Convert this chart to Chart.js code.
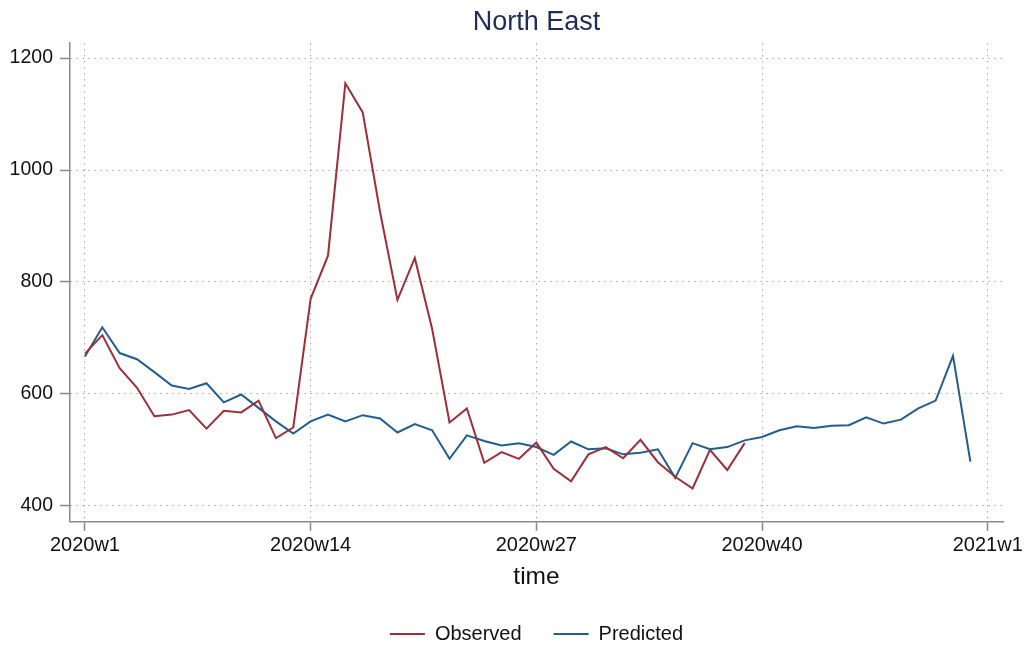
<!DOCTYPE html>
<html>
<head>
<meta charset="utf-8">
<script src="https://cdn.jsdelivr.net/npm/chart.js@4"></script>
<style>
  html, body { margin: 0; padding: 0; background: #fff; }
  #wrap { width: 1030px; height: 646px; }
</style>
</head>
<body>
<div id="wrap"><canvas id="chart" width="1030" height="646"></canvas></div>
<script>
// week index 0 = 2020w1
const observed = [672, 705, 646, 611, 560, 563, 571, 538, 570, 567, 588, 521, 540,
    770, 847, 1155, 1103, 925, 768, 843, 716, 549, 574, 477, 496, 484, 513, 466,
    444, 492, 505, 485, 518, 478, 452, 431, 500, 464, 512];
const predicted = [667, 719, 673, 662, 639, 615, 609, 619, 585, 599, 575, 551, 529,
    551, 563, 551, 562, 556, 531, 546, 535, 484, 526, 516, 508, 512, 505, 491,
    515, 501, 503, 492, 495, 501, 450, 512, 501, 505, 517, 523, 535, 542, 539,
    543, 544, 558, 547, 554, 574, 588, 668, 479];
const tickWeeks = [0, 13, 26, 39, 52];
const tickLabels = ['2020w1', '2020w14', '2020w27', '2020w40', '2021w1'];
const yTicks = [400, 600, 800, 1000, 1200];

const red = '#9b2f3a';
const blue = '#235d8e';
const axisGray = '#8a8a8a';
const gridGray = '#a8a8a8';
const font = "'Liberation Sans', Arial, Helvetica, sans-serif";

document.addEventListener('DOMContentLoaded', function () {
    const ctx = document.getElementById('chart').getContext('2d');
    new Chart(ctx, {
        type: 'line',
        data: {
            datasets: [{
                label: 'Observed',
                data: observed.map((v, i) => ({ x: i, y: v })),
                borderColor: red,
                backgroundColor: red,
                borderWidth: 2,
                pointRadius: 0,
                tension: 0
            }, {
                label: 'Predicted',
                data: predicted.map((v, i) => ({ x: i, y: v })),
                borderColor: blue,
                backgroundColor: blue,
                borderWidth: 2,
                pointRadius: 0,
                tension: 0
            }]
        },
        options: {
            responsive: false,
            animation: false,
            layout: { padding: { left: 0, right: 27, top: 0, bottom: -8 } },
            plugins: {
                title: {
                    display: true,
                    fullSize: false,
                    text: 'North East',
                    color: '#1e2d58',
                    font: { family: font, size: 27, weight: 'normal' },
                    padding: { top: 6, bottom: 4.6 }
                },
                legend: {
                    position: 'bottom',
                    fullSize: false,
                    labels: {
                        color: '#111',
                        font: { family: font, size: 20 },
                        boxWidth: 35,
                        boxHeight: 2,
                        padding: 32,
                        generateLabels: function (chart) {
                            return chart.data.datasets.map((ds, i) => ({
                                text: ds.label,
                                fillStyle: ds.borderColor,
                                strokeStyle: ds.borderColor,
                                lineWidth: 0,
                                fontColor: '#111',
                                datasetIndex: i
                            }));
                        }
                    }
                },
                tooltip: { enabled: false }
            },
            scales: {
                x: {
                    type: 'linear',
                    min: -0.86,
                    max: 52.88,
                    afterBuildTicks: function (scale) {
                        scale.ticks = tickWeeks.map(v => ({ value: v }));
                    },
                    ticks: {
                        autoSkip: false,
                        maxRotation: 0,
                        padding: 3,
                        color: '#111',
                        font: { family: font, size: 20 },
                        callback: function (value) {
                            return tickLabels[tickWeeks.indexOf(value)];
                        }
                    },
                    grid: {
                        color: gridGray,
                        tickColor: axisGray,
                        tickBorderDash: [],
                        tickWidth: 1.5,
                        tickLength: 9
                    },
                    border: { display: true, color: axisGray, width: 1.5, dash: [1.5, 4.5] },
                    title: {
                        display: true,
                        text: 'time',
                        color: '#111',
                        font: { family: font, size: 24.5 },
                        padding: { top: 1.7, bottom: 0 }
                    }
                },
                y: {
                    min: 371.3,
                    max: 1227,
                    afterBuildTicks: function (scale) {
                        scale.ticks = yTicks.map(v => ({ value: v }));
                    },
                    afterFit: function (scale) {
                        scale.width = 70;
                    },
                    ticks: {
                        padding: 7,
                        color: '#111',
                        font: { family: font, size: 19.5 },
                        callback: function (value) {
                            return String(value);
                        }
                    },
                    grid: {
                        color: gridGray,
                        tickColor: axisGray,
                        tickBorderDash: [],
                        tickWidth: 1.5,
                        tickLength: 10
                    },
                    border: { display: true, color: axisGray, width: 1.5, dash: [1.5, 4.5] }
                }
            }
        }
    });
});
</script>
</body>
</html>
